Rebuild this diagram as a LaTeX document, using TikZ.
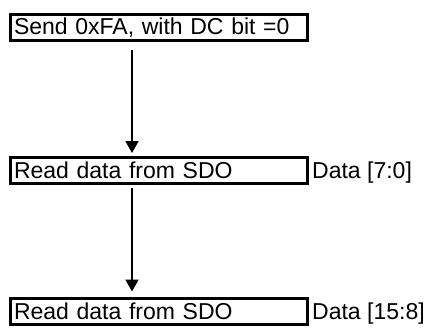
\documentclass[tikz,border=0pt]{standalone}
\usepackage{fontspec}
\setmainfont{Liberation Sans}
\usepackage{tikz}
\usetikzlibrary{arrows.meta, positioning}

\begin{document}
\begin{tikzpicture}[
				x=1pt, y=1pt,
				block/.style={
					rectangle,
					draw,
					text width=290pt,
					align=left,
					inner xsep=3.5pt,
					inner ysep=0pt,
					minimum height=26pt,
					font=\fontsize{23pt}{27pt}\selectfont,
					line width=3pt
				},
				label/.style={
					inner sep=0pt,
					font=\fontsize{23pt}{27pt}\selectfont
				},
				arrow/.style={
					-{Triangle[length=12pt, width=13pt]},
					line width=2pt
				}
				]
				
				\useasboundingbox (0,0) rectangle (426,-327);
				
				% Block 1: send command
				\node[block, anchor=north west] (send) at (9,-13) {Send 0xFA, with DC bit =0};
				
				% Block 2: first read
				\node[block, below=114pt of send] (readlow) {Read data from SDO};
				\node[label, right=3pt of readlow.base east, anchor=base west] (datalow) {Data [7:0]};
				
				\draw[arrow, shorten <=8pt, shorten >=3pt] ([xshift=123pt]send.south west) -- ([xshift=123pt]readlow.north west);
				
				% Block 3: second read
				\node[block, below=112pt of readlow] (readhigh) {Read data from SDO};
				\node[label, right=3pt of readhigh.base east, anchor=base west] (datahigh) {Data [15:8]};
				
				\draw[arrow, shorten <=2.5pt, shorten >=5.5pt] ([xshift=123pt]readlow.south west) -- ([xshift=123pt]readhigh.north west);
				
			\end{tikzpicture}
\end{document}
